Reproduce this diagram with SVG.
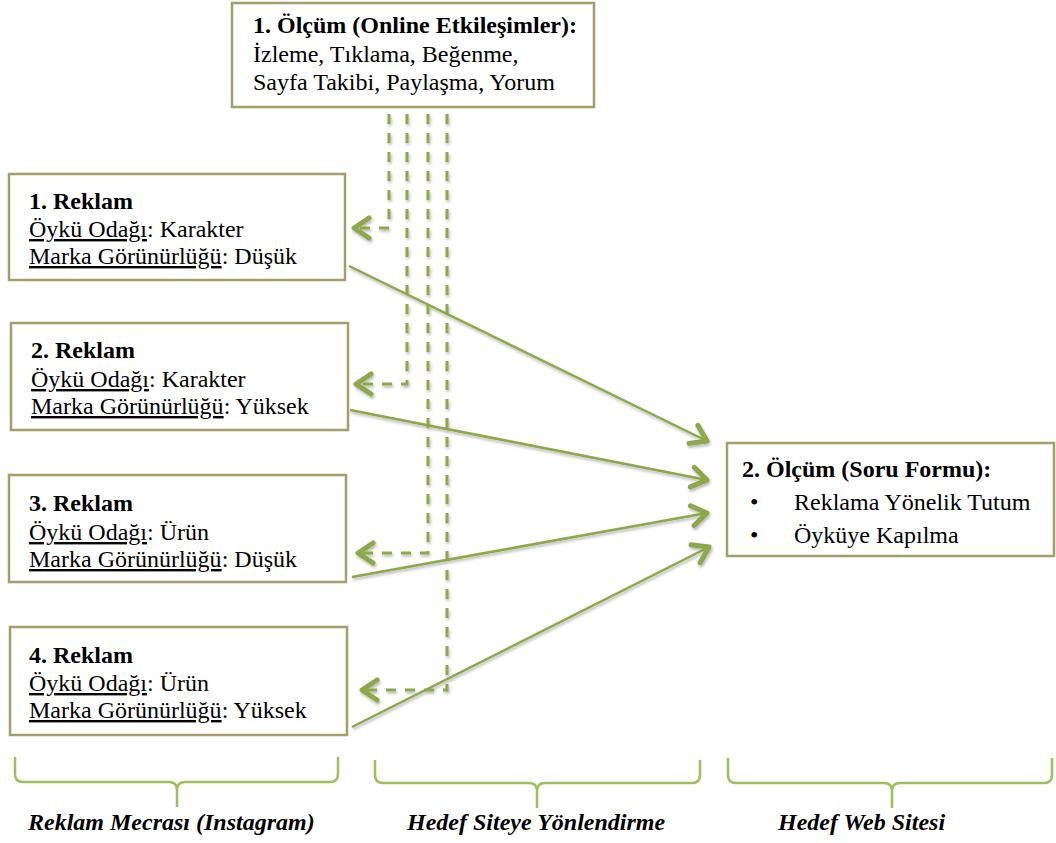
<svg xmlns="http://www.w3.org/2000/svg" width="1056" height="843" viewBox="0 0 1056 843">
<style>
.box{fill:#fff;stroke:#A59D6C;stroke-width:2.5}
text{font-family:"Liberation Serif","Times New Roman",serif;font-size:24px;fill:#000}
.b{font-weight:bold}
.lab{font-weight:bold;font-style:italic}
.u{text-decoration:underline}
.dash{fill:none;stroke:#8CA84A;stroke-width:3;stroke-dasharray:10 9}
.solid{fill:none;stroke:#8CA84A;stroke-width:2.5}
.brace{fill:none;stroke:#9DBF5E;stroke-width:2.5}
</style>
<defs>
<marker id="ah" markerUnits="userSpaceOnUse" markerWidth="40" markerHeight="40" viewBox="-25 -20 40 40" refX="0" refY="0" orient="auto" overflow="visible">
<path d="M-15,-10 L0,0 L-15,10" fill="none" stroke="#8CA84A" stroke-width="5" stroke-linecap="round" stroke-linejoin="round"/>
</marker>
<filter id="sh" x="-20%" y="-20%" width="140%" height="140%">
<feDropShadow dx="1" dy="2" stdDeviation="1.5" flood-color="#000" flood-opacity="0.3"/>
</filter>
</defs>

<g id="connectors" filter="url(#sh)">
<path class="dash" d="M389,114 V228 H354" marker-end="url(#ah)"/>
<path class="dash" d="M407,114 V384 H356" marker-end="url(#ah)"/>
<path class="dash" d="M428,114 V553 H358" marker-end="url(#ah)"/>
<path class="dash" d="M447,114 V690 H362" marker-end="url(#ah)"/>
<path class="solid" d="M349,266 L707,441" marker-end="url(#ah)"/>
<path class="solid" d="M350,410 L707,480" marker-end="url(#ah)"/>
<path class="solid" d="M352,577 L707,513" marker-end="url(#ah)"/>
<path class="solid" d="M352,727 L709,547" marker-end="url(#ah)"/>
</g>

<g id="olcum1">
<rect class="box" x="232" y="3" width="362" height="104"/>
<text x="253" y="33" class="b">1. Ölçüm (Online Etkileşimler):</text>
<text x="253" y="62">İzleme, Tıklama, Beğenme,</text>
<text x="253" y="90">Sayfa Takibi, Paylaşma, Yorum</text>
</g>

<g id="reklam1">
<rect class="box" x="9" y="174" width="336" height="106"/>
<text x="29" y="209" class="b">1. Reklam</text>
<text x="29" y="237"><tspan class="u">Öykü Odağı</tspan>: Karakter</text>
<text x="29" y="264"><tspan class="u">Marka Görünürlüğü</tspan>: Düşük</text>
</g>

<g id="reklam2">
<rect class="box" x="11" y="323" width="337" height="107"/>
<text x="31" y="358" class="b">2. Reklam</text>
<text x="31" y="387"><tspan class="u">Öykü Odağı</tspan>: Karakter</text>
<text x="31" y="414"><tspan class="u">Marka Görünürlüğü</tspan>: Yüksek</text>
</g>

<g id="reklam3">
<rect class="box" x="9" y="475" width="337" height="107"/>
<text x="29" y="511" class="b">3. Reklam</text>
<text x="29" y="540"><tspan class="u">Öykü Odağı</tspan>: Ürün</text>
<text x="29" y="567"><tspan class="u">Marka Görünürlüğü</tspan>: Düşük</text>
</g>

<g id="reklam4">
<rect class="box" x="10" y="627" width="337" height="108"/>
<text x="29" y="663" class="b">4. Reklam</text>
<text x="29" y="691"><tspan class="u">Öykü Odağı</tspan>: Ürün</text>
<text x="29" y="718"><tspan class="u">Marka Görünürlüğü</tspan>: Yüksek</text>
</g>

<g id="olcum2">
<rect class="box" x="727" y="443" width="327" height="113"/>
<text x="742" y="477" class="b">2. Ölçüm (Soru Formu):</text>
<text x="750" y="510">•</text>
<text x="794" y="510">Reklama Yönelik Tutum</text>
<text x="750" y="543">•</text>
<text x="794" y="543">Öyküye Kapılma</text>
</g>

<g id="brace1">
<path class="brace" d="M15,757 V774 Q15,782 23,782 H169 Q177,782 177,790 V807 M177,790 Q177,782 185,782 H330 Q338,782 338,774 V757"/>
<text x="28" y="830" class="lab">Reklam Mecrası (Instagram)</text>
</g>

<g id="brace2">
<path class="brace" d="M375,760 V775 Q375,783 383,783 H529 Q537,783 537,791 V808 M537,791 Q537,783 545,783 H692 Q700,783 700,775 V760"/>
<text x="407" y="830" class="lab">Hedef Siteye Yönlendirme</text>
</g>

<g id="brace3">
<path class="brace" d="M728,758 V775 Q728,783 736,783 H884 Q892,783 892,791 V808 M892,791 Q892,783 900,783 H1044 Q1052,783 1052,775 V758"/>
<text x="778" y="830" class="lab">Hedef Web Sitesi</text>
</g>
</svg>
